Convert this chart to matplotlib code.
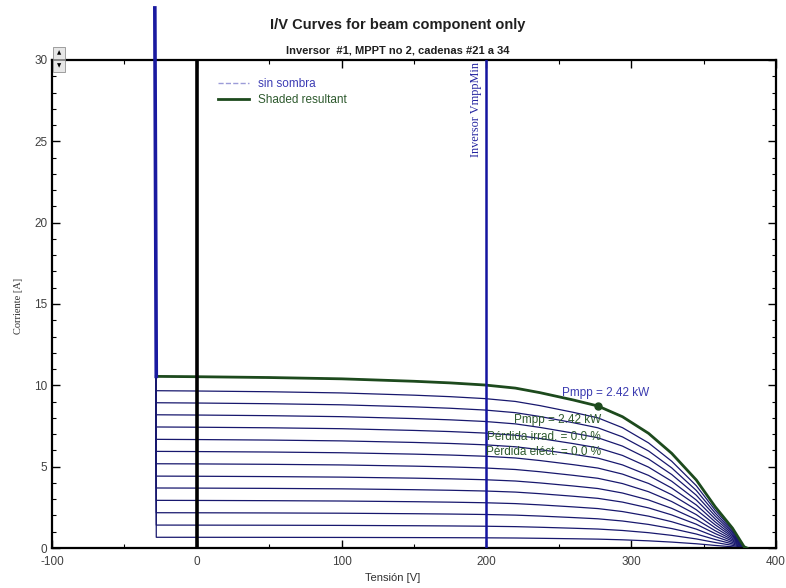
import matplotlib
matplotlib.use("Agg")
import matplotlib.pyplot as plt
from matplotlib.patches import Rectangle
from matplotlib.ticker import MultipleLocator

plt.rcParams["axes.unicode_minus"] = False

# I/V del string resultante (sombra)
volt = [-28, 0, 50, 100, 150, 175, 199, 220, 237, 260, 277, 294, 312, 328,
        345, 358, 370, 378, 380]
i_shaded = [10.55, 10.53, 10.48, 10.40, 10.25, 10.15, 10.02, 9.83, 9.55, 9.10,
            8.73, 8.07, 7.05, 5.82, 4.18, 2.54, 1.22, 0.08, 0.0]

# corriente de cortocircuito acumulada, cadenas #21 a 34
isc_strings = [0.66, 1.41, 2.17, 2.93, 3.69, 4.42, 5.18, 5.94, 6.68, 7.44,
               8.19, 8.93, 9.67]

v_rev, i_rev = -29.0, 33.2       # zona inversa (diodo)
v_mppmin = 200
pmpp_v, pmpp_i = 277, 8.73

font = "Liberation Sans"
serif = "Liberation Serif"
navy = "#18186e"
dkgreen = "#1d4a1d"

fig = plt.figure(figsize=(7.86, 5.88), dpi=100)
ax = fig.add_axes([0.0662, 0.068, 0.921, 0.830])

isc_top = i_shaded[0]
for isc in isc_strings:
    k = isc / isc_top
    ax.plot([v_rev] + volt, [i_rev] + [k * c for c in i_shaded],
            color=navy, lw=0.9, clip_on=False, zorder=2)

# sin sombra coincide con la resultante
ax.plot(volt, i_shaded, color="#9c9cd8", lw=1.0, ls="--", zorder=2,
        label="sin sombra")
ax.plot(volt, i_shaded, color=dkgreen, lw=2.0, zorder=3,
        label="Shaded resultant")
ax.plot([v_rev, -28], [i_rev, isc_top], color="#1a1aa0", lw=2.6,
        clip_on=False, zorder=4)
ax.plot(pmpp_v, pmpp_i, "o", color=dkgreen, ms=5, zorder=5)

# limites
ax.plot([0, 0], [0, 30], color="black", lw=2.6, zorder=4)
ax.plot([v_mppmin, v_mppmin], [0, 30], color="#1414a0", lw=1.8, zorder=4)
ax.text(v_mppmin - 3, 29.9, "Inversor VmppMin", rotation=90, ha="right",
        va="top", color="#2424a0", fontsize=8.8, family=serif)

ax.text(252.5, 9.53, "Pmpp = 2.42 kW", color="#3a3ab0", fontsize=8.5,
        family=font, va="center", ha="left", zorder=6)
ax.text(279, 7.87, "Pmpp = 2.42 kW", color="#2e5a2e", fontsize=8.5,
        family=font, va="center", ha="right", zorder=6)
ax.text(279, 6.84, "Pérdida irrad. = 0.0 %", color="#2e5a2e", fontsize=8.5,
        family=font, va="center", ha="right", zorder=6)
ax.text(279, 5.88, "Pérdida eléct. = 0.0 %", color="#2e5a2e", fontsize=8.5,
        family=font, va="center", ha="right", zorder=6)

ax.set_xlim(-100, 400)
ax.set_ylim(0, 30)
ax.xaxis.set_major_locator(MultipleLocator(100))
ax.xaxis.set_minor_locator(MultipleLocator(50))
ax.yaxis.set_major_locator(MultipleLocator(5))
ax.yaxis.set_minor_locator(MultipleLocator(1))
ax.tick_params(which="both", direction="in", top=True, right=True,
               colors="black", labelcolor="#404040", labelsize=8.5)
ax.tick_params(which="major", length=6, width=1.0)
ax.tick_params(which="minor", length=3, width=0.8)
ax.tick_params(axis="x", pad=5.5)
for lab in ax.get_xticklabels() + ax.get_yticklabels():
    lab.set_family(font)
for sp in ax.spines.values():
    sp.set_linewidth(1.6)

leg = ax.legend(loc="upper left", bbox_to_anchor=(0.215, 0.985), frameon=False,
                prop={"family": font, "size": 8.5}, handlelength=2.6,
                handletextpad=0.8, labelspacing=0.35)
leg.get_texts()[0].set_color("#3c3cb4")
leg.get_texts()[1].set_color("#2e5a2e")

fig.text(0.506, 0.957, "I/V Curves for beam component only", ha="center",
         va="center", fontsize=10.5, weight="bold", family=font,
         color="#202020")
fig.text(0.506, 0.914, "Inversor  #1, MPPT no 2, cadenas #21 a 34",
         ha="center", va="center", fontsize=8, weight="bold", family=font,
         color="#202020")
fig.text(0.5, 0.017, "Tensión [V]", ha="center", va="center", fontsize=8,
         family=font, color="#303030")
fig.text(0.023, 0.48, "Corriente [A]", ha="center", va="center", rotation=90,
         fontsize=7.5, family=serif, color="#303030")

# botones del eje Y
for y0, s in [((588 - 59) / 588, "\u25b2"), ((588 - 72) / 588, "\u25bc")]:
    fig.patches.append(Rectangle((53 / 786, y0), 12 / 786, 12 / 588,
                                 transform=fig.transFigure, fc="#e6e6e6",
                                 ec="#909090", lw=0.6))
    fig.text(59 / 786, y0 + 6 / 588, s, ha="center", va="center",
             fontsize=4, color="black")

fig.savefig("out.png", dpi=100)
